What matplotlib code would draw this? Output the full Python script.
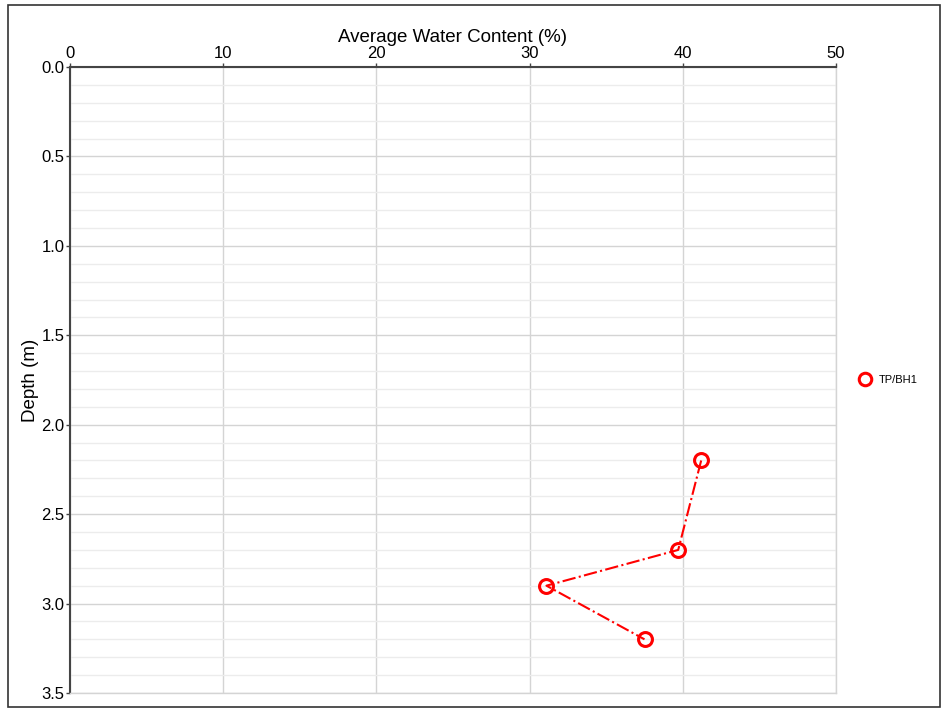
import matplotlib.pyplot as plt
from matplotlib.patches import Rectangle
from matplotlib.ticker import MultipleLocator

plt.rcParams['font.family'] = ['Liberation Sans', 'DejaVu Sans']

# datos
water_content = [41.2, 39.7, 31.1, 37.5]
depth = [2.2, 2.7, 2.9, 3.2]
serie = "TP/BH1"

fig = plt.figure(figsize=(9.41, 7.10), dpi=100)
fig.patches.append(Rectangle((8 / 941, 3 / 710), 932 / 941, 702 / 710, transform=fig.transFigure,
                             fill=False, edgecolor="#333333", linewidth=1.2))

ax = fig.add_axes([70 / 941, 1 - 693 / 710, 766 / 941, 626 / 710])
ax.plot(water_content, depth, color="red", linestyle="-.", linewidth=1.5,
        marker="o", markersize=10, markerfacecolor="none", markeredgewidth=2.2,
        markeredgecolor="red", label=serie)

ax.set_xlim(0, 50)
ax.set_ylim(3.5, 0)
ax.xaxis.set_major_locator(MultipleLocator(10))
ax.yaxis.set_major_locator(MultipleLocator(0.5))
ax.yaxis.set_minor_locator(MultipleLocator(0.1))
ax.yaxis.set_major_formatter(plt.FormatStrFormatter("%.1f"))
ax.xaxis.tick_top()
ax.xaxis.set_label_position("top")
ax.grid(which="major", color="#d4d4d4", linewidth=1)
ax.grid(which="minor", axis="y", color="#ececec", linewidth=1)
ax.set_axisbelow(True)

for lado in ["right", "bottom"]:
    ax.spines[lado].set_color("#d4d4d4")
    ax.spines[lado].set_linewidth(1)
for lado in ["top", "left"]:
    ax.spines[lado].set_color("#444444")
    ax.spines[lado].set_linewidth(1.5)

ax.tick_params(which="major", length=3, width=1, color="#444444", labelsize=12, pad=1)
ax.tick_params(which="minor", length=0)
ax.set_xlabel("Average Water Content (%)", fontsize=13.5, labelpad=3)
ax.set_ylabel("Depth (m)", fontsize=13.5, labelpad=2)

ax.legend(loc="center left", bbox_to_anchor=(1.025, 0.5), frameon=False, fontsize=8,
          handlelength=0, handletextpad=1.2, markerscale=0.9)

plt.savefig("out.png", dpi=100)
